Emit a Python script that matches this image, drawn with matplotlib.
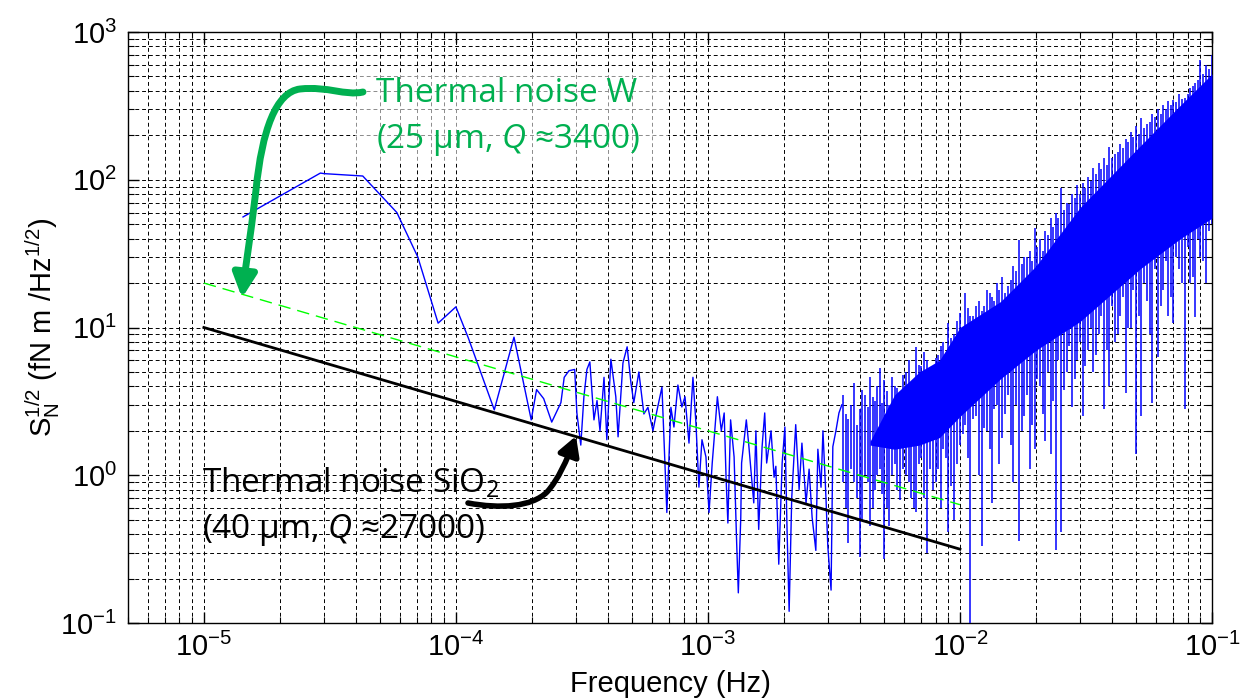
import numpy as np
import matplotlib
matplotlib.use("Agg")
import matplotlib.pyplot as plt
from matplotlib.path import Path
from matplotlib.patches import FancyArrowPatch, Rectangle

plt.rcParams['font.family'] = ['Liberation Sans', 'DejaVu Sans']
plt.rcParams['mathtext.fontset'] = 'custom'
plt.rcParams['mathtext.rm'] = 'Open Sans'
plt.rcParams['mathtext.it'] = 'Open Sans:italic'
plt.rcParams['axes.unicode_minus'] = False

# ---------------- data ----------------
# measured spectrum, sparse low-frequency part (Hz, fN m/Hz^1/2)
freq_sparse = [1.43e-5, 2.9e-5, 3.0e-5, 4.27e-5, 5.83e-5, 7.06e-5, 8.5e-5, 1.0e-4, 1.12e-4,
               1.42e-4, 1.7e-4, 1.99e-4, 2.09e-4, 2.23e-4, 2.40e-4, 2.61e-4, 2.69e-4, 2.81e-4,
               2.96e-4, 3.02e-4, 3.13e-4, 3.22e-4, 3.31e-4, 3.40e-4, 3.53e-4, 3.63e-4, 3.73e-4,
               3.87e-4, 3.97e-4, 4.12e-4, 4.31e-4, 4.40e-4, 4.60e-4, 4.78e-4, 4.95e-4, 5.08e-4,
               5.32e-4, 5.57e-4, 5.78e-4, 6.05e-4, 6.28e-4, 6.57e-4, 6.87e-4, 7.13e-4, 7.33e-4,
               7.60e-4, 7.88e-4, 8.11e-4, 8.41e-4, 8.72e-4, 8.96e-4, 9.21e-4, 9.47e-4, 9.82e-4,
               1.01e-3, 1.04e-3, 1.06e-3, 1.09e-3, 1.13e-3, 1.16e-3,
               1.18e-3, 1.20e-3, 1.23e-3, 1.27e-3, 1.30e-3, 1.32e-3, 1.35e-3, 1.36e-3, 1.42e-3,
               1.45e-3, 1.52e-3, 1.55e-3, 1.59e-3, 1.64e-3, 1.68e-3, 1.71e-3, 1.78e-3, 1.83e-3,
               1.86e-3, 1.91e-3, 1.97e-3, 2.02e-3, 2.06e-3, 2.10e-3, 2.15e-3, 2.23e-3, 2.30e-3,
               2.36e-3, 2.45e-3, 2.52e-3, 2.59e-3, 2.68e-3, 2.73e-3, 2.81e-3, 2.86e-3, 2.94e-3,
               2.99e-3, 3.08e-3, 3.13e-3, 3.22e-3, 3.31e-3, 3.40e-3]
noise_sparse = [56, 111, 110, 106, 60, 30, 10.7, 13.8, 8.5,
                2.77, 8.6, 2.37, 3.8, 3.3, 2.29, 3.1, 4.6, 5.1,
                5.2, 2.64, 1.6, 3.39, 5.2, 5.85, 2.37, 3.2, 2.0,
                4.6, 1.74, 6.1, 3.4, 1.82, 5.75, 7.4, 4.2, 3.1,
                5.0, 2.6, 2.88, 2.0, 2.75, 3.95, 0.56, 2.88, 2.12,
                4.08, 2.9, 3.4, 1.65, 4.6, 2.26, 0.83, 1.74, 1.33,
                0.56, 1.21, 1.82, 3.4, 2.0, 2.64,
                0.97, 0.475, 2.37, 1.33, 0.35, 0.16, 0.52, 1.21, 2.37,
                1.65, 0.65, 2.0, 0.43, 1.56, 2.64, 1.21, 2.0, 0.97,
                1.15, 0.25, 1.21, 2.12, 0.43, 0.12, 0.7, 2.2, 0.8,
                1.65, 0.65, 1.1, 0.52, 0.31, 1.5, 0.83, 2.0, 0.7,
                0.33, 0.167, 1.56, 2.0, 2.64, 3.0]

# dense high-frequency part: solid core band of the trace
freq_core = [4.4e-3, 5.5e-3, 6.9e-3, 8.3e-3, 1.0e-2, 1.45e-2, 2.0e-2,
             3.0e-2, 5.2e-2, 7.5e-2, 1.0e-1]
core_low = [1.6, 1.5, 1.6, 1.8, 2.5, 4.5, 7.0, 11, 25, 40, 55]
core_high = [1.7, 3.5, 5.0, 6.0, 10, 15, 26, 65, 170, 320, 520]

# dense part, first set of spikes: frequency, lower tip, upper tip
freq_dense = [3.45e-3, 3.6e-3, 3.8e-3, 4.0e-3, 4.2e-3, 4.4e-3, 4.6e-3, 4.8e-3, 5.0e-3,
              5.25e-3, 5.5e-3, 5.8e-3, 6.1e-3, 6.4e-3, 6.7e-3, 7.0e-3, 7.4e-3, 7.8e-3,
              8.2e-3, 8.6e-3, 9.0e-3, 9.5e-3,
              1.0e-2, 1.05e-2, 1.1e-2, 1.16e-2, 1.22e-2, 1.28e-2, 1.34e-2, 1.4e-2, 1.47e-2,
              1.55e-2, 1.63e-2, 1.71e-2, 1.8e-2, 1.89e-2, 1.98e-2, 2.08e-2, 2.18e-2, 2.29e-2,
              2.4e-2, 2.52e-2, 2.65e-2, 2.78e-2, 2.92e-2, 3.07e-2, 3.22e-2, 3.38e-2, 3.55e-2,
              3.73e-2, 3.92e-2, 4.12e-2, 4.32e-2, 4.54e-2, 4.76e-2, 5.0e-2, 5.25e-2, 5.5e-2,
              5.8e-2, 6.1e-2, 6.4e-2, 6.7e-2, 7.0e-2, 7.4e-2, 7.8e-2, 8.2e-2, 8.6e-2, 9.0e-2,
              9.5e-2, 1.0e-1]
dense_up = [3.5, 2.4, 4.2, 2.8, 3.5, 4.6, 3.2, 5.3, 4.4,
            3.0, 4.0, 3.6, 5.0, 4.0, 7.4, 5.5, 6.0, 5.2,
            6.5, 8.0, 10.7, 9.0,
            12.5, 17, 12, 14, 13, 18, 16, 20, 22,
            19, 26, 39, 30, 33, 47, 40, 45, 55,
            60, 88, 70, 80, 92, 95, 105, 120, 130,
            140, 166, 150, 175, 190, 210, 230, 262, 240,
            280, 300, 320, 340, 346, 380, 360, 420, 450, 645,
            600, 700]
dense_down = [0.9, 0.35, 0.9, 0.28, 1.0, 0.45, 0.8, 1.1, 0.27,
              0.45, 1.2, 0.68, 1.0, 0.7, 0.56, 1.3, 0.30, 0.79,
              1.1, 1.5, 0.41, 0.5,
              1.6, 2.2, 0.1, 2.5, 0.33, 2.0, 0.65, 3.0, 1.8,
              3.5, 0.9, 0.36, 2.5, 1.1, 1.5, 4.0, 1.7, 1.4,
              0.31, 0.41, 5.0, 2.9, 6.0, 2.5, 7.0, 5.0, 9.0,
              2.8, 4.0, 8.0, 12, 3.6, 10, 1.4, 2.5, 15,
              3.1, 6.3, 18, 12, 10.7, 25, 2.8, 20, 11.7, 30,
              20, 50]

# dense part, second set of spikes (between the first ones)
freq_dense2 = [3.52e-3, 3.7e-3, 3.9e-3, 4.1e-3, 4.3e-3, 4.5e-3, 4.7e-3, 4.9e-3, 5.12e-3,
               5.37e-3, 5.65e-3, 5.95e-3, 6.25e-3, 6.55e-3, 6.85e-3, 7.2e-3, 7.6e-3, 8.0e-3,
               8.4e-3, 8.8e-3, 9.25e-3, 9.75e-3, 1.025e-2, 1.075e-2, 1.13e-2, 1.19e-2, 1.25e-2,
               1.31e-2, 1.37e-2, 1.435e-2, 1.51e-2, 1.59e-2, 1.67e-2, 1.755e-2, 1.845e-2,
               1.935e-2, 2.03e-2, 2.13e-2, 2.235e-2, 2.345e-2, 2.46e-2, 2.585e-2, 2.715e-2,
               2.85e-2, 3.0e-2, 3.145e-2, 3.3e-2, 3.465e-2, 3.64e-2, 3.825e-2, 4.02e-2, 4.22e-2,
               4.43e-2, 4.65e-2, 4.88e-2, 5.12e-2, 5.37e-2, 5.65e-2, 5.95e-2, 6.25e-2, 6.55e-2,
               6.85e-2, 7.2e-2, 7.6e-2, 8.0e-2, 8.4e-2, 8.8e-2, 9.25e-2, 9.75e-2]
dense_up2 = [2.6, 3.0, 2.2, 3.8, 2.9, 3.4, 4.0, 3.1, 3.7,
             4.6, 3.9, 4.8, 6.0, 4.5, 5.6, 6.8, 5.3, 6.2,
             7.5, 6.6, 8.5, 11, 10, 13.5, 12, 15, 14,
             17, 15, 18, 17, 21, 24, 27, 30,
             28, 35, 33, 42, 48, 55, 62, 68,
             75, 80, 88, 98, 110, 118, 125, 140, 155,
             165, 180, 195, 205, 225, 245, 265, 280, 300,
             320, 335, 350, 380, 430, 470, 520, 560]
dense_down2 = [0.6, 1.1, 0.7, 0.5, 0.9, 0.6, 1.0, 0.75, 0.6,
               1.0, 0.8, 1.1, 0.9, 0.6, 1.2, 0.7, 1.1, 0.9,
               0.6, 1.3, 0.85, 1.2, 1.9, 1.3, 2.4, 1.0, 2.1,
               1.5, 2.8, 1.2, 2.6, 1.6, 3.0, 2.0, 3.5,
               2.2, 4.5, 2.6, 5.0, 3.2, 6.0, 3.8, 7.5,
               4.5, 8.0, 5.5, 10, 6.5, 12, 7.0, 14, 9.0,
               16, 10, 18, 12, 20, 9.0, 25, 14, 28,
               16, 30, 20, 35, 22, 40, 28, 45]

# thermal-noise model lines
freq_model = [1e-5, 1e-2]
thermal_W = [20.0, 0.632]
thermal_SiO2 = [10.0, 0.316]

xticks = [1e-5, 1e-4, 1e-3, 1e-2, 1e-1]
yticks = [1e-1, 1e0, 1e1, 1e2, 1e3]

# ---------------- figure ----------------
W, H = 1245, 699
fig = plt.figure(figsize=(W / 100, H / 100), dpi=100)
ax = fig.add_axes([128 / W, 1 - 623 / H, (1212 - 128) / W, (623 - 32) / H])
ax.set_xscale('log')
ax.set_yscale('log')
ax.set_xlim(5e-6, 1e-1)
ax.set_ylim(1e-1, 1e3)

grid_kw = dict(color='black', linestyle=(0, (4, 3)), linewidth=0.7)
ax.grid(True, which='major', **grid_kw)
ax.grid(True, which='minor', **grid_kw)
ax.set_axisbelow(True)

blue = '#0000FF'
ax.fill_between(freq_core, core_low, core_high, color=blue, linewidth=0, zorder=3)
ax.vlines(freq_dense, dense_down, dense_up, color=blue, linewidth=1.1, zorder=3)
ax.vlines(freq_dense2, dense_down2, dense_up2, color=blue, linewidth=1.1, zorder=3)
ax.plot(freq_sparse, noise_sparse, color=blue, linewidth=1.0, zorder=3)

ax.plot(freq_model, thermal_W, color='#00FF00', linewidth=1.0,
        linestyle=(0, (9, 5)), zorder=4)
ax.plot(freq_model, thermal_SiO2, color='black', linewidth=2.0, zorder=4)

ax.set_xticks(xticks)
ax.set_yticks(yticks)
ax.tick_params(which='both', direction='in', top=True, right=True, labelsize=21)
ax.tick_params(which='major', length=8, width=1)
ax.tick_params(which='minor', length=4, width=0.8)
ax.tick_params(axis='x', pad=7)
ax.tick_params(axis='y', pad=8)
for s in ax.spines.values():
    s.set_linewidth(1.0)
    s.set_color('black')

ax.set_xlabel('Frequency (Hz)', fontsize=21)
ax.xaxis.set_label_coords(0.5, (623 - 670) / 591)
ax.set_ylabel(r'$\mathregular{S_N^{1/2}}$ (fN m /Hz$^{\mathregular{1/2}}$)', fontsize=21)
ax.yaxis.set_label_coords((62 - 128) / 1084, 0.5)


def P(x, y):
    return (x / W, 1 - y / H)


# white translucent box behind the green annotation
fig.add_artist(Rectangle(P(355, 164), 313 / W, 90 / H, transform=fig.transFigure,
                         facecolor='white', edgecolor='none', alpha=0.55, zorder=5))

green = '#00B050'
afont = ['Open Sans', 'DejaVu Sans']
fs = 24
fig.text(*P(376, 93), 'Thermal noise W', color=green, fontsize=fs, family=afont,
         ha='left', va='center', zorder=6)
fig.text(*P(376, 140), r'(25 μm, $\mathit{Q}$ ≈3400)', color=green, fontsize=fs, family=afont,
         ha='left', va='center', zorder=6)
fig.text(*P(202, 483), r'Thermal noise SiO$\mathregular{_2}$', color='black', fontsize=fs,
         family=afont, ha='left', va='center', zorder=6)
fig.text(*P(202, 530), r'(40 μm, $\mathit{Q}$ ≈27000)', color='black', fontsize=fs,
         family=afont, ha='left', va='center', zorder=6)

# curved arrows
gpts = [P(363, 92), P(345, 96), P(328, 86), P(300, 89),
        P(276, 92), P(262, 130), P(256, 190),
        P(250, 240), P(245, 270), P(242, 298)]
gcodes = [Path.MOVETO] + [Path.CURVE4] * 9
fig.add_artist(FancyArrowPatch(path=Path(gpts, gcodes), transform=fig.transFigure,
                               arrowstyle='-|>,head_length=1.0,head_width=0.5',
                               mutation_scale=14, color=green, linewidth=5, zorder=6))

kpts = [P(468, 503), P(500, 509), P(532, 507), P(547, 492),
        P(558, 480), P(567, 460), P(576, 436)]
kcodes = [Path.MOVETO] + [Path.CURVE4] * 6
fig.add_artist(FancyArrowPatch(path=Path(kpts, kcodes), transform=fig.transFigure,
                               arrowstyle='-|>,head_length=0.8,head_width=0.45',
                               mutation_scale=14, color='black', linewidth=4, zorder=6))

fig.savefig('out.png', dpi=100)
